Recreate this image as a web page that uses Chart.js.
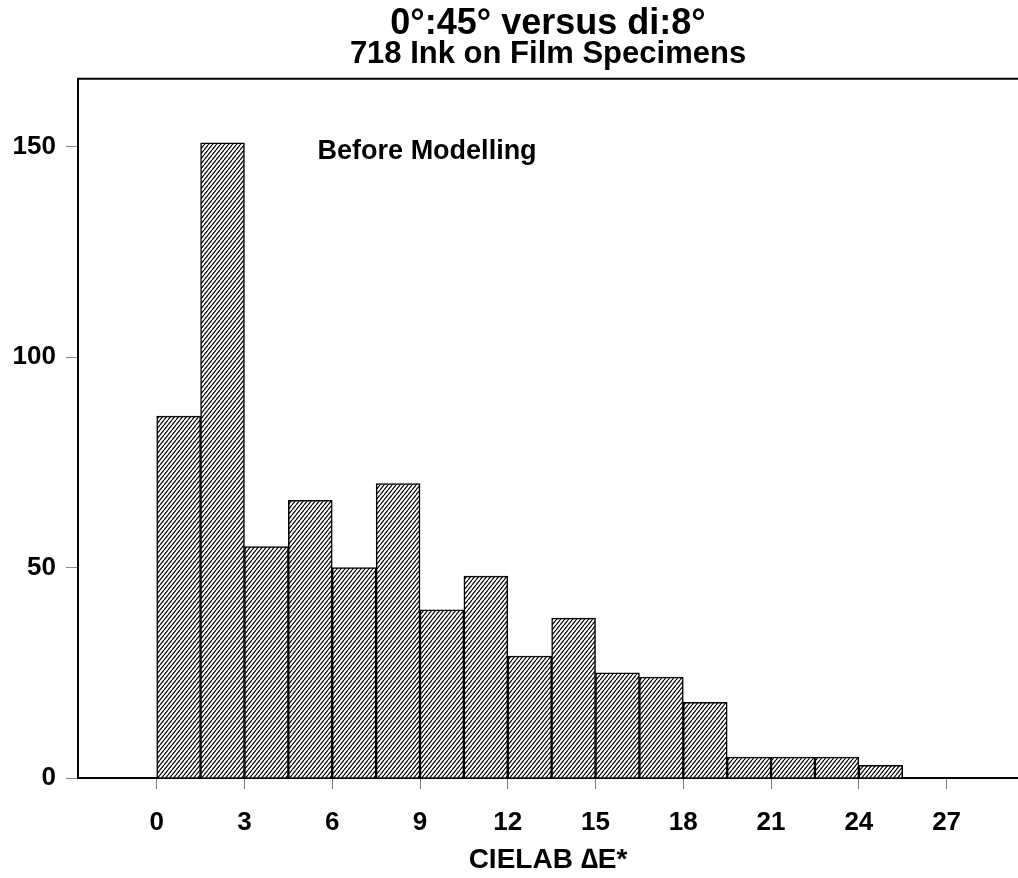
<!DOCTYPE html>
<html>
<head>
<meta charset="utf-8">
<script src="https://cdn.jsdelivr.net/npm/chart.js@4.4.1/dist/chart.umd.min.js"></script>
<style>
  html, body { margin: 0; padding: 0; background: #fff; }
  #wrap { width: 1018px; height: 878px; }
</style>
</head>
<body>
<div id="wrap"><canvas id="hist"></canvas></div>
<script>
// --- Histogram data ---
const binStart = [0, 1.5, 3, 4.5, 6, 7.5, 9, 10.5, 12, 13.5, 15, 16.5, 18, 19.5, 21, 22.5, 24];
const binWidth = 1.5;
const counts = [86, 151, 55, 66, 50, 70, 40, 48, 29, 38, 25, 24, 18, 5, 5, 5, 3];
const xTicks = [0, 3, 6, 9, 12, 15, 18, 21, 24, 27];
const yTicks = [0, 50, 100, 150];

const titleText = '0°:45° versus di:8°';
const subtitleText = '718 Ink on Film Specimens';
const xTitle = 'CIELAB \u2206E*';
const noteText = 'Before Modelling';
const notePos = [5.5, 149];

const FONT = '"Liberation Sans", Arial, Helvetica, sans-serif';

// --- diagonal hatch fill, like the old plotter shading ---
function makeHatch() {
  const tile = document.createElement('canvas');
  tile.width = 4; tile.height = 5;
  const c = tile.getContext('2d');
  c.fillStyle = '#fff';
  c.fillRect(0, 0, 4, 5);
  c.strokeStyle = '#000';
  c.lineWidth = 1.15;
  for (const dx of [-4, 0, 4]) {
    c.beginPath();
    c.moveTo(dx, 5);
    c.lineTo(dx + 4, 0);
    c.stroke();
  }
  return c.createPattern(tile, 'repeat');
}

// top frame line + the "Before Modelling" note
const framePlugin = {
  id: 'frame',
  afterDraw(chart) {
    const { ctx, chartArea: a, scales } = chart;
    ctx.save();
    ctx.strokeStyle = '#000';
    ctx.lineWidth = 2;
    ctx.beginPath();
    ctx.moveTo(a.left - 1, a.top);
    ctx.lineTo(a.right, a.top);
    ctx.stroke();
    ctx.font = 'bold 27px ' + FONT;
    ctx.fillStyle = '#000';
    ctx.textBaseline = 'middle';
    ctx.textAlign = 'left';
    ctx.fillText(noteText, scales.x.getPixelForValue(notePos[0]), scales.y.getPixelForValue(notePos[1]));
    ctx.restore();
  }
};

const ctx = document.getElementById('hist').getContext('2d');
new Chart(ctx, {
  type: 'bar',
  data: {
    datasets: [{
      data: binStart.map((s, i) => ({ x: s + binWidth / 2, y: counts[i] })),
      backgroundColor: makeHatch(),
      borderColor: '#000',
      borderWidth: 1.5,
      barPercentage: 1,
      categoryPercentage: 1
    }]
  },
  options: {
    responsive: true,
    maintainAspectRatio: false,
    animation: false,
    layout: { padding: 0 },
    plugins: {
      legend: { display: false },
      tooltip: { enabled: false },
      title: {
        display: true,
        text: titleText,
        fullSize: false,
        color: '#000',
        font: { family: FONT, size: 36, weight: 'bold', lineHeight: 1 },
        padding: { top: 6, bottom: 0 }
      },
      subtitle: {
        display: true,
        text: subtitleText,
        fullSize: false,
        color: '#000',
        font: { family: FONT, size: 31, weight: 'bold', lineHeight: 0.8 },
        padding: { top: 0, bottom: 12 }
      }
    },
    scales: {
      x: {
        type: 'linear',
        min: -2.69,
        max: 29.44,
        offset: false,
        afterBuildTicks: s => { s.ticks = xTicks.map(v => ({ value: v })); },
        afterFit: s => { s.height = 100; },
        grid: { offset: false, drawOnChartArea: false, drawTicks: true, tickLength: 11, color: '#777' },
        border: { color: '#000', width: 2 },
        ticks: {
          color: '#000', padding: 18, maxRotation: 0, autoSkip: false,
          font: { family: FONT, size: 26, weight: 'bold' }
        },
        title: {
          display: true, text: xTitle, color: '#000',
          font: { family: FONT, size: 28, weight: 'bold', lineHeight: 1 },
          padding: { top: 0, bottom: 4 }
        }
      },
      y: {
        min: 0,
        max: 166.2,
        afterBuildTicks: s => { s.ticks = yTicks.map(v => ({ value: v })); },
        afterFit: s => { s.width = 78; },
        grid: { drawOnChartArea: false, drawTicks: true, tickLength: 12, color: '#888' },
        border: { color: '#000', width: 2 },
        ticks: {
          color: '#000', padding: 10,
          font: { family: FONT, size: 26, weight: 'bold' }
        }
      }
    }
  },
  plugins: [framePlugin]
});
</script>
</body>
</html>
